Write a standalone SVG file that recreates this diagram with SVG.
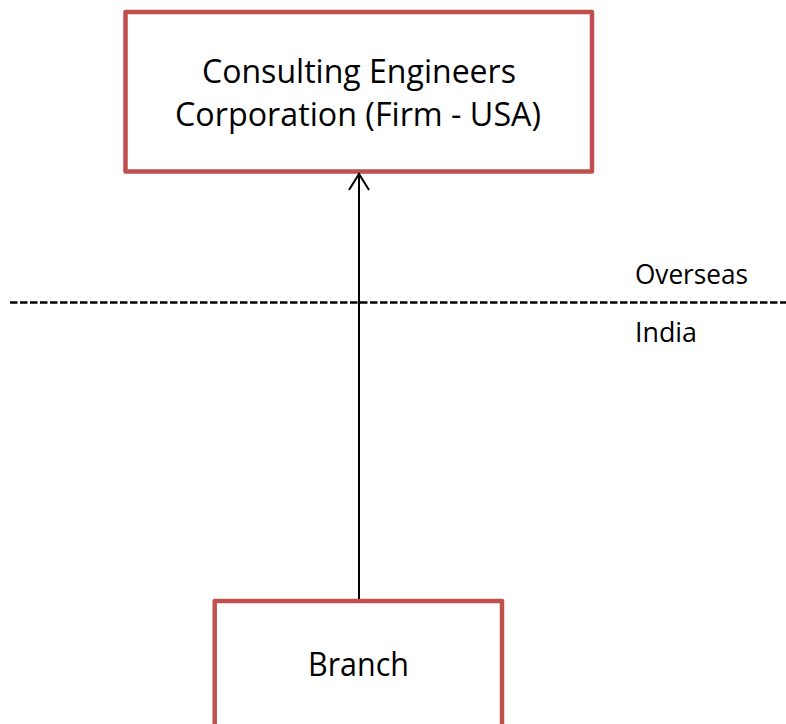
<svg xmlns="http://www.w3.org/2000/svg" width="786" height="724" viewBox="0 0 786 724">
  <style>
    .box { fill: #FFFFFF; stroke: #C0504D; stroke-width: 4.5; stroke-linejoin: round; }
    .t { font-family: "Open Sans", "Noto Sans", "Liberation Sans", sans-serif; fill: #000000; }
    .big { font-size: 33px; text-anchor: middle; }
    .lbl { font-size: 28px; }
    .conn { stroke: #000000; stroke-width: 2; fill: none; }
  </style>
  <rect width="786" height="724" fill="#FFFFFF"/>
  <g id="boundary">
    <line x1="10" y1="302.5" x2="786" y2="302.5" stroke="#000000" stroke-width="2.4" stroke-dasharray="7.5 2.5"/>
    <text class="t lbl" x="635" y="284" textLength="113" lengthAdjust="spacingAndGlyphs">Overseas</text>
    <text class="t lbl" x="635" y="342" textLength="62" lengthAdjust="spacingAndGlyphs">India</text>
  </g>
  <g id="firm">
    <rect class="box" x="125.5" y="12" width="466.5" height="159.5"/>
    <text class="t big" x="359" y="83" textLength="314" lengthAdjust="spacingAndGlyphs">Consulting Engineers</text>
    <text class="t big" x="358" y="126" textLength="366" lengthAdjust="spacingAndGlyphs">Corporation (Firm - USA)</text>
  </g>
  <g id="branch">
    <rect class="box" x="214.7" y="601" width="287.3" height="200"/>
    <text class="t big" x="358.5" y="676" textLength="101" lengthAdjust="spacingAndGlyphs">Branch</text>
  </g>
  <g id="connectors">
    <line class="conn" x1="359" y1="599" x2="359" y2="174"/>
    <polyline class="conn" points="349,190 359,174 369,190"/>
  </g>
</svg>
